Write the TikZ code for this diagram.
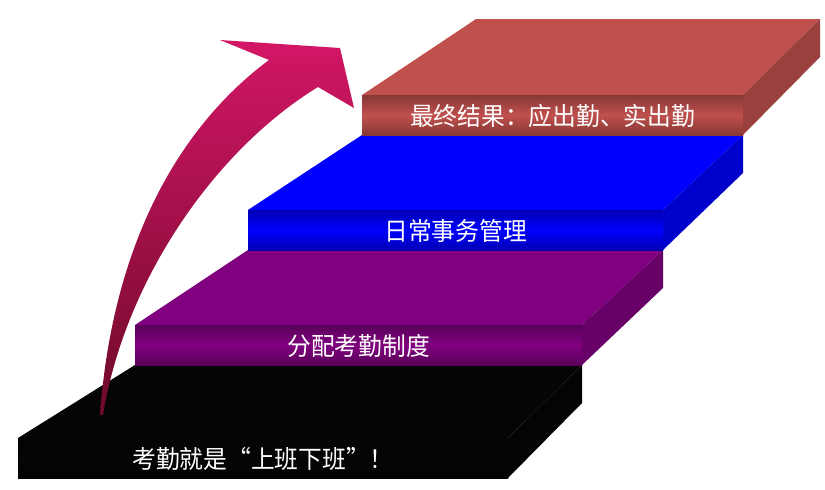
\documentclass[tikz,border=0pt]{standalone}
\usepackage{fontspec}
\newfontfamily\cjk{Noto Sans CJK SC}
\usetikzlibrary{calc}
% one step: front left/right x, front top y, back left/right x, back top y, colour, text
\newcommand\stairslab[8]{
  \fill[#7] (#1,#3) -- (#4,#6) -- (#5,#6) -- (#2,#3) -- cycle;
  \fill[#7!80!black] (#2,#3) -- (#5,#6) -- (#5,#6+38) -- (#2,#3+40) -- cycle;
  \shade[top color=#7!70!black,bottom color=#7!70!black,middle color=#7]
    (#1,#3) rectangle (#2,#3+40);
  \node[font=\cjk\fontsize{25}{25}\selectfont,text=white,xscale=0.95]
    at ($(#1,#3+21)!0.5!(#2,#3+21)$) {#8};
}
\definecolor{stepred}{HTML}{C0504D}
\definecolor{stepblue}{HTML}{0000FF}
\definecolor{steppurple}{HTML}{800080}
\definecolor{stepblack}{HTML}{050505}
\definecolor{arrowtop}{HTML}{D31666}
\definecolor{arrowbot}{HTML}{6E0A2A}
\begin{document}
\begin{tikzpicture}[x=1pt,y=-1pt]
  \useasboundingbox (0,0) rectangle (825,490);

  \stairslab{18}{508}{438}{135}{582}{365}{stepblack}{考勤就是“上班下班”！}
  \stairslab{135}{582}{325}{248}{663}{250}{steppurple}{分配考勤制度}
  \stairslab{248}{663}{210}{362}{743}{135}{stepblue}{日常事务管理}
  \stairslab{362}{743}{95}{476}{820}{19}{stepred}{最终结果：应出勤、实出勤}

  % rising arrow
  \shade[top color=arrowtop,bottom color=arrowbot,shading angle=0]
    (100,415) .. controls (112,250) and (175,130) .. (269,60)
    -- (220,40) -- (340,48) -- (354,108) -- (318,87)
    .. controls (215,150) and (125,280) .. (103,415) -- cycle;
\end{tikzpicture}
\end{document}
